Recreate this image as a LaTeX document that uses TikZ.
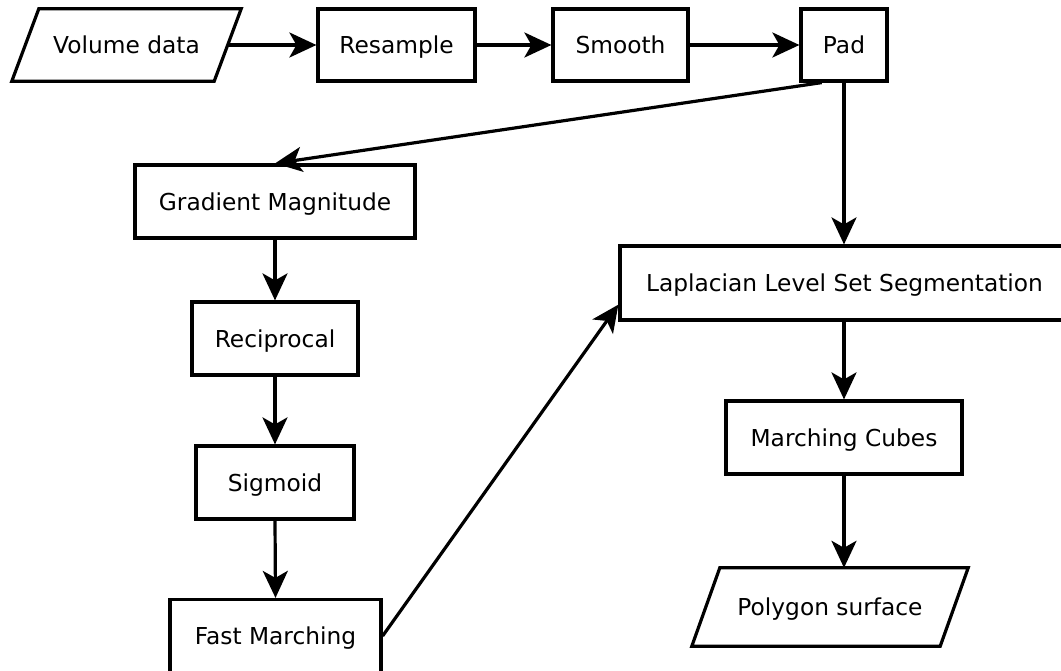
\documentclass[tikz,border=0pt]{standalone}
\usepackage{fontspec}
\setmainfont{DejaVu Sans}
\usetikzlibrary{arrows.meta,calc}
\tikzset{
  box/.style={draw, line width=3.2pt, inner sep=0pt, minimum height=73pt, align=center, text height=17.5pt, text depth=0pt},
  para/.style={inner sep=0pt, minimum height=72pt, align=center, text height=17.5pt, text depth=0pt},
  paraline/.style={line width=3.2pt, line join=miter},
  conn/.style={line width=3.2pt, -{Stealth[length=27pt,width=25pt,inset=7pt]}},
}
\begin{document}
\begin{tikzpicture}[x=1pt,y=-1pt,font=\fontsize{23.3}{28}\selectfont]
\clip (0,0) rectangle (1061,670);
\fill[white] (0,0) rectangle (1061,670);
% top row
\node[para, minimum width=202pt] (vol) at (126.5,45) {Volume data};
\draw[paraline] ([xshift=13.5pt]vol.north west) -- ([xshift=13.5pt]vol.north east)
  -- ([xshift=-13.5pt]vol.south east) -- ([xshift=-13.5pt]vol.south west) -- cycle;
\node[box, minimum width=157pt, minimum height=72pt] (res) at (396.5,45) {Resample};
\node[box, minimum width=135pt, minimum height=72pt] (smo) at (620.5,45) {Smooth};
\node[box, minimum width=86pt, minimum height=72pt] (pad) at (844,45) {Pad};
% left column
\node[box, minimum width=280pt] (grad) at (275,201.5) {Gradient Magnitude};
\node[box, minimum width=166pt] (rec) at (275,338.5) {Reciprocal};
\node[box, minimum width=158pt] (sig) at (275,482.5) {Sigmoid};
\node[box, minimum width=211pt] (fm) at (275.5,636) {Fast Marching};
% right column
\node[box, minimum width=449pt, minimum height=74pt] (lap) at (844.5,283) {Laplacian Level Set Segmentation};
\node[box, minimum width=236pt] (mc) at (844,437.5) {Marching Cubes};
\node[para, minimum width=248pt, minimum height=78pt] (poly) at (830,607) {Polygon surface};
\draw[paraline] ([xshift=14pt]poly.north west) -- ([xshift=14pt]poly.north east)
  -- ([xshift=-14pt]poly.south east) -- ([xshift=-14pt]poly.south west) -- cycle;
% connectors
\draw[conn] (vol.east) -- (res.west);
\draw[conn] (res.east) -- (smo.west);
\draw[conn] (smo.east) -- (pad.west);
\draw[conn] ($(pad.south west)!0.25!(pad.south east)$) -- (grad.north);
\draw[conn] (pad.south) -- (pad.south |- lap.north);
\draw[conn] (grad.south) -- (rec.north);
\draw[conn] (rec.south) -- (sig.north);
\draw[conn] (sig.south) -- (fm.north);
\draw[conn] (fm.east) -- ($(lap.north west)!0.78!(lap.south west)$);
\draw[conn] (lap.south -| mc.north) -- (mc.north);
\draw[conn] (mc.south) -- (mc.south |- poly.north);
\end{tikzpicture}
\end{document}
